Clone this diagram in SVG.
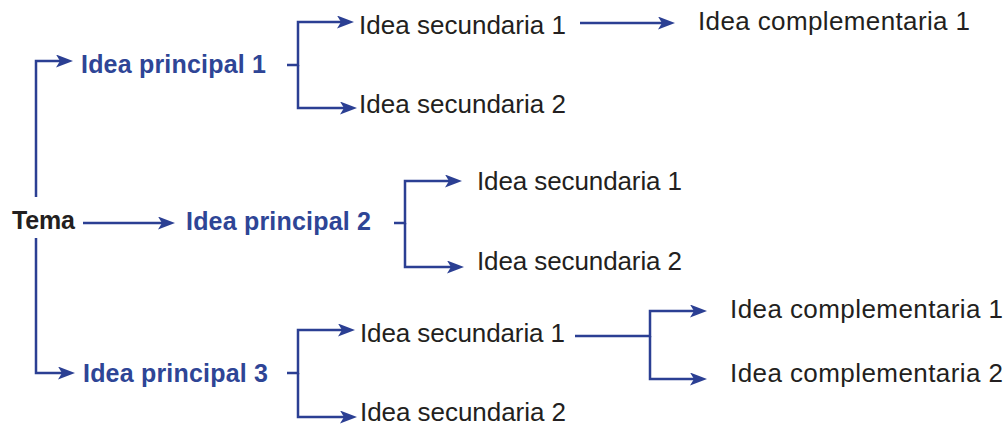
<svg xmlns="http://www.w3.org/2000/svg" width="1008" height="425" viewBox="0 0 1008 425">
<defs>
<marker id="arr" markerUnits="userSpaceOnUse" markerWidth="18" markerHeight="14" refX="11" refY="6.5" orient="auto">
<path d="M0,0 L17,6.5 L0,13 L4,6.5 z" fill="#2b3f93"/>
</marker>
<style>
.c{fill:none;stroke:#2b3f93;stroke-width:2.5}
.a{marker-end:url(#arr)}
.t{font-family:"Liberation Sans",Arial,sans-serif;font-size:26px;fill:#231f20}
.b{font-weight:bold;font-size:25px}
.p{font-weight:bold;font-size:25px;fill:#2e4596}
</style>
</defs>
<rect width="1008" height="425" fill="#ffffff"/>
<g id="connectors">
<path class="c a" d="M36,197 V61 H67"/>
<path class="c a" d="M36,238 V373 H69"/>
<path class="c a" d="M83,223 H169"/>
<path class="c a" d="M287,65 H298 V22 H348"/>
<path class="c a" d="M298,65 V108 H351"/>
<path class="c a" d="M580,23 H669"/>
<path class="c a" d="M394,223 H405 V181 H456"/>
<path class="c a" d="M405,223 V267 H458"/>
<path class="c a" d="M287,373 H298 V330 H349"/>
<path class="c a" d="M298,373 V417 H351"/>
<path class="c a" d="M575,336 H650 V311 H701"/>
<path class="c a" d="M650,336 V379 H701"/>
</g>
<g id="tema"><text class="t b" x="12" y="229" textLength="63">Tema</text></g>
<g id="ip1"><text class="t p" x="81" y="73" textLength="185">Idea principal 1</text></g>
<g id="ip2"><text class="t p" x="186" y="230" textLength="185">Idea principal 2</text></g>
<g id="ip3"><text class="t p" x="83" y="382" textLength="185">Idea principal 3</text></g>
<g id="is1a"><text class="t" x="359" y="34" textLength="207">Idea secundaria 1</text></g>
<g id="is2a"><text class="t" x="359" y="113" textLength="207">Idea secundaria 2</text></g>
<g id="ic1a"><text class="t" x="698" y="30" textLength="272">Idea complementaria 1</text></g>
<g id="is1b"><text class="t" x="477" y="190" textLength="205">Idea secundaria 1</text></g>
<g id="is2b"><text class="t" x="477" y="270" textLength="205">Idea secundaria 2</text></g>
<g id="is1c"><text class="t" x="360" y="342" textLength="205">Idea secundaria 1</text></g>
<g id="is2c"><text class="t" x="360" y="421" textLength="206">Idea secundaria 2</text></g>
<g id="ic1c"><text class="t" x="730" y="318" textLength="273">Idea complementaria 1</text></g>
<g id="ic2c"><text class="t" x="730" y="382" textLength="273">Idea complementaria 2</text></g>
</svg>
